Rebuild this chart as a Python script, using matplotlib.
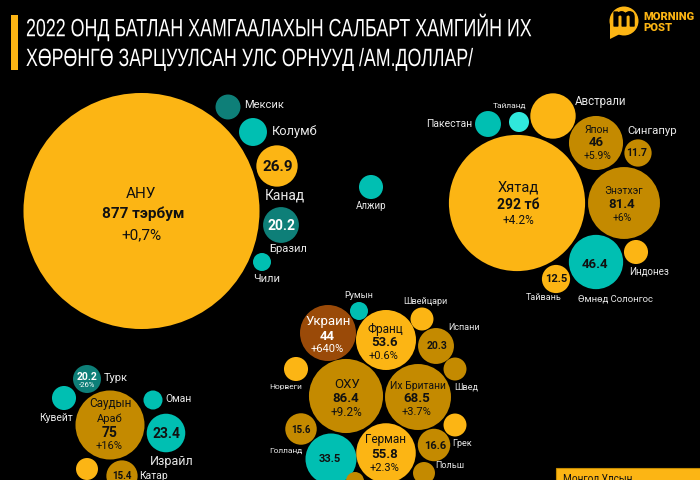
import matplotlib
matplotlib.use("Agg")
import matplotlib.pyplot as plt
from matplotlib.patches import Circle, Polygon, Rectangle
from matplotlib.patheffects import AbstractPathEffect, withStroke
from matplotlib.transforms import Affine2D, Bbox
from matplotlib.text import Text
import math

plt.rcParams['font.family'] = ['Roboto', 'DejaVu Sans']

YEL, DRK, TEA, DTE, LTE, BRN = '#FCB514', '#C48A00', '#00BFB2', '#0E7F78', '#30E8DC', '#9A4A08'

# spending, USD bn (unlabelled bubbles estimated from their area)
names = ['АНУ','Мексик','Колумб','Канад','Бразил','Чили','Алжир',
         'Хятад','Пакестан','Тайланд','Австрали','Япон','Сингапур','Энэтхэг','Өмнөд Солонгос','Индонез','Тайвань',
         'Турк','Кувейт','Саудын Араб','Оман','Израйл','Иран','Катар',
         'Румын','Украин','Франц','Швейцари','Испани','Швед','Норвеги','ОХУ','Их Британи','Голланд','Итали','Герман','Грек','Румын2','Польш','Бельги']
values = [877,9.8,12.3,26.9,20.2,5.1,9.1,
          292,10.6,6.3,32.4,46,11.7,81.4,46.4,9.1,12.5,
          20.2,9.1,75,5.7,23.4,7.6,15.4,
          5.1,44,53.6,8.3,20.3,8.3,9.1,86.4,68.5,15.6,33.5,55.8,8.3,16.6,7.6,5.1]
xpos = [141.5,228,253,277,281,262,371,
        517,488,519,553,596,638,624,596,636,556,
        87,64,110,153,166,87,122,
        359,328,386,422,436,455,296,346,418,301,331,386,455,434,424,355]
ypos = [211,107,132,166,225,262,187,
        203,124,122,116,143,153,203,262,252,279,
        379,398,425,400,433,469,476,
        311,333,340,319,346,369,369,396,397,429,459,453,425,445,473,481]
cols = [YEL,DTE,TEA,YEL,DTE,TEA,TEA,
        YEL,TEA,LTE,YEL,DRK,DRK,DRK,TEA,YEL,YEL,
        DTE,TEA,DRK,TEA,TEA,YEL,DRK,
        TEA,BRN,YEL,YEL,DRK,DRK,YEL,DRK,DRK,DRK,TEA,YEL,YEL,DRK,DRK,DRK]
RADIUS_PER_ROOT = 3.985
# bubbles the reference draws off the common area scale
radius_override = {'Турк': 14, 'Украин': 28, 'Франц': 30, 'Итали': 25.5}

W, K = 'white', '#111111'
L = '#E8E8E8'
# (x, y, text, size, weight, colour)
labels = [
 (141,194,'АНУ',11,'normal',K),(143,214,'877 тэрбум',11,'bold',K),(141,235,'+0,7%',11,'normal',K),
 (264,105,'Мексик',8,'normal',L),(295,132,'Колумб',9.3,'normal',L),(278,167,'26.9',11,'bold',K),
 (285,196,'Канад',10,'normal',L),(281,226,'20.2',10,'bold',W),(288,249,'Бразил',8,'normal',L),(267,279,'Чили',8,'normal',L),
 (371,206,'Алжир',7,'normal',L),
 (518,188,'Хятад',10.5,'normal',K),(518,205,'292 тб',10,'bold',K),(518,221,'+4.2%',8.5,'normal',K),
 (601,101,'Австрали',8.3,'normal',L),(510,106,'Тайланд',6,'normal',L),(449,124,'Пакестан',7.5,'normal',L),
 (652,131,'Сингапур',8.2,'normal',L),(597,130,'Япон',7.5,'normal',K),(596,143,'46',9.5,'bold',K),(597,156,'+5.9%',7.5,'normal',K),
 (637,153,'11.7',7.5,'bold',K),(624,191,'Энэтхэг',7.5,'normal',K),(622,205,'81.4',9.5,'bold',K),(622,218,'+6%',7.5,'normal',K),
 (595,264,'46.4',9.5,'bold',K),(649,271,'Индонез',7,'normal',L),(556,279,'12.5',8,'bold',K),(544,298,'Тайвань',6.5,'normal',L),(615,299,'Өмнөд Солонгос',6.8,'normal',L),
 (87,377,'20.2',7.5,'bold',W),(87,385,'-26%',5.5,'normal',W),(116,378,'Турк',8,'normal',L),(56,418,'Кувейт',7.5,'normal',L),
 (110,404,'Саудын',8.5,'normal',K),(110,419,'Араб',8,'normal',K),(110,433,'75',10,'bold',K),(109,446,'+16%',8,'normal',K),
 (179,399,'Оман',7.5,'normal',L),(166,434,'23.4',10,'bold',K),(172,461,'Израйл',9,'normal',L),(122,476,'15.4',7,'bold',K),(153,476,'Катар',7.5,'normal',L),
 (359,295,'Румын',6.5,'normal',L),(425,301,'Швейцари',6.5,'normal',L),(464,328,'Испани',6.5,'normal',L),(466,387,'Швед',6.5,'normal',L),
 (286,387,'Норвеги',6,'normal',L),(286,451,'Голланд',6,'normal',L),(462,443,'Грек',6.5,'normal',L),(450,466,'Польш',6.5,'normal',L),
 (328,322,'Украин',9.5,'normal',W),(327,336,'44',9.5,'bold',W),(327,349,'+640%',8,'normal',W),
 (385,329,'Франц',8.5,'normal',K),(385,343,'53.6',9.5,'bold',K),(384,356,'+0.6%',8,'normal',K),(437,346,'20.3',7.5,'bold',K),
 (347,384,'ОХУ',9.5,'normal',K),(346,399,'86.4',9.5,'bold',K),(346,412,'+9.2%',8.5,'normal',K),
 (418,386,'Их Британи',7.5,'normal',K),(417,399,'68.5',9.5,'bold',K),(417,412,'+3.7%',8,'normal',K),
 (301,430,'15.6',7,'bold',K),(330,459,'33.5',8,'bold',K),
 (386,440,'Герман',8.5,'normal',K),(385,455,'55.8',9.5,'bold',K),(385,468,'+2.3%',8,'normal',K),(435,446,'16.6',8,'bold',K),
]

fig = plt.figure(figsize=(7, 4.8), dpi=100, facecolor='black')
ax = fig.add_axes([0, 0, 1, 1], facecolor='black')
ax.set_xlim(0, 700); ax.set_ylim(480, 0); ax.axis('off')

for n, v, x, y, c in zip(names, values, xpos, ypos, cols):
    r = radius_override.get(n, RADIUS_PER_ROOT * math.sqrt(v))
    ax.add_patch(Circle((x, y), r, fc=c, ec='none'))
for x, y, t, s, w, c in labels:
    ax.text(x, y, t, fontsize=s, fontweight=w, color=c, ha='center', va='center')


class XSqueeze(AbstractPathEffect):
    """Draws a text's glyph outlines squeezed horizontally about x0 (display px)."""
    def __init__(self, sx, x0):
        super().__init__()
        self.sx, self.x0 = sx, x0

    def draw_path(self, renderer, gc, tpath, affine, rgbFace=None):
        t = affine + Affine2D().translate(-self.x0, 0).scale(self.sx, 1).translate(self.x0, 0)
        renderer.draw_path(gc, tpath, t, rgbFace)


class NarrowText(Text):
    """Real text whose reported extent follows the horizontal squeeze."""
    squeeze = 1.0

    def get_window_extent(self, renderer=None, dpi=None):
        bb = super().get_window_extent(renderer, dpi)
        return Bbox.from_extents(bb.x0, bb.y0, bb.x0 + bb.width * self.squeeze, bb.y1)


def narrow_title(x, y, s, right):
    t = NarrowText(x, y, s, fontsize=18, family=['Liberation Sans', 'DejaVu Sans'], color='white',
                   ha='left', va='center', transform=ax.transData)
    ax.add_artist(t)
    t.set_clip_on(False)
    w = t.get_window_extent(fig.canvas.get_renderer()).width
    sx = (right - x) / w
    t.squeeze = sx
    t.set_path_effects([XSqueeze(sx, x)])


# title
ax.add_patch(Rectangle((11, 15), 7, 55, fc=YEL, ec='none'))
narrow_title(26, 27, '2022 ОНД БАТЛАН ХАМГААЛАХЫН САЛБАРТ ХАМГИЙН ИХ', 531)
narrow_title(26, 59, 'ХӨРӨНГӨ ЗАРЦУУЛСАН УЛС ОРНУУД /АМ.ДОЛЛАР/', 473)

# logo
ax.add_patch(Circle((624, 21), 14.5, fc=YEL, ec='none'))
ax.add_patch(Polygon([(610, 24), (610, 39), (624, 32)], fc=YEL, ec='none'))
ax.text(624, 19, 'm', fontsize=19, fontweight='bold', color='black', ha='center', va='center',
        path_effects=[withStroke(linewidth=1.0, foreground='black')])
ax.text(643, 17.5, 'MORNING', fontsize=8, fontweight='black', color=YEL, ha='left', va='center')
ax.text(643, 28, 'POST', fontsize=8, fontweight='black', color=YEL, ha='left', va='center')

# cropped side box
ax.add_patch(Rectangle((556, 468), 150, 20, fc=YEL, ec=DRK, lw=0.8))
ax.text(563, 479, 'Монгол Улсын', fontsize=7.2, color=K, ha='left', va='center')

fig.savefig('out.png', dpi=100, facecolor='black')
